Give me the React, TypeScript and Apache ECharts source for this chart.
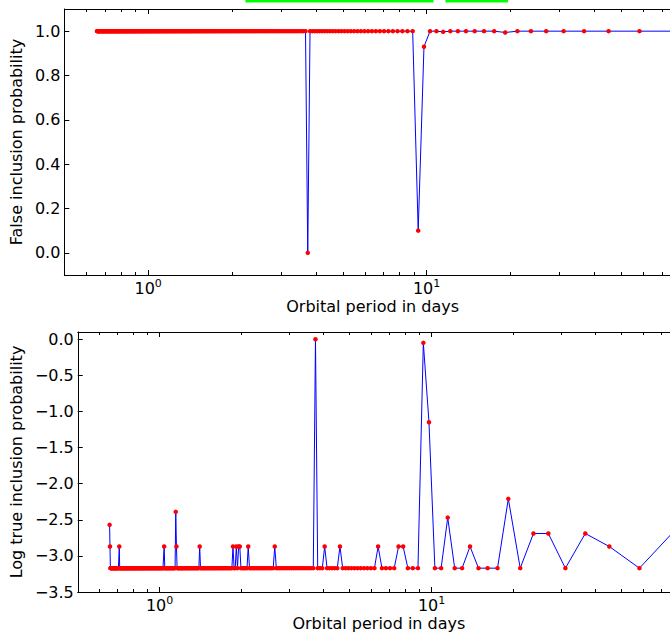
import React, { useEffect, useRef } from "react";
import * as echarts from "echarts";

// Periodogram frequency grid (cycles per day); periods are 1 / frequency
const FREQ_START = 0.0122;
const FREQ_STEP = 0.005;
const FREQ_COUNT = 304;

const X_MIN = 0.5;
const X_MAJOR_TICKS = [1, 10];
const X_MINOR_TICKS = [0.6, 0.7, 0.8, 0.9, 2, 3, 4, 5, 6, 7, 8, 9, 20, 30, 40, 50, 60, 70, 80];

// Top panel: false inclusion probability
const FALSE_BASE = 1.0;
const FALSE_DIP_PERIODS = [3.743, 9.33, 9.785, 11.47, 19.16];
const FALSE_DIP_VALUES = [0.0, 0.1, 0.93, 0.997, 0.994];
const FALSE_TICKS = [0, 0.2, 0.4, 0.6, 0.8, 1.0];

// Bottom panel: log true inclusion probability
const LOG_TRUE_BASE = -3.17;
const LOG_TRUE_SPIKE_PERIODS = [
  0.655, 0.657, 0.711, 1.037, 1.147, 1.153, 1.402, 1.868, 1.917, 1.949, 1.975,
  2.114, 2.642, 3.743, 4.03, 4.6, 6.36, 7.55, 7.87, 9.33, 9.785, 11.47, 13.85,
  19.16, 23.7, 26.9, 36.76, 45.05, 81.97,
];
const LOG_TRUE_SPIKE_VALUES = [
  -2.57, -2.87, -2.87, -2.87, -2.39, -2.87, -2.87, -2.87, -2.87, -2.87, -2.87,
  -2.87, -2.87, 0.0, -2.87, -2.87, -2.87, -2.87, -2.87, -0.05, -1.15, -2.47, -2.87,
  -2.21, -2.69, -2.69, -2.69, -2.87, -2.57,
];
const LOG_TRUE_TICKS = [-3.5, -3.0, -2.5, -2.0, -1.5, -1.0, -0.5, 0.0];

const FONT = "DejaVu Sans";

function buildPeriods(): number[] {
  const out: number[] = [];
  for (let j = FREQ_COUNT - 1; j >= 0; j--) out.push(1 / (FREQ_START + FREQ_STEP * j));
  return out;
}

function buildValues(base: number, periods: number[], vals: number[]): number[] {
  const arr: number[] = new Array(FREQ_COUNT).fill(base);
  periods.forEach((p, i) => {
    const j = Math.round((1 / p - FREQ_START) / FREQ_STEP);
    const idx = FREQ_COUNT - 1 - j;
    if (idx >= 0 && idx < FREQ_COUNT) arr[idx] = vals[i];
  });
  return arr;
}

export default function App() {
  const ref = useRef<HTMLDivElement>(null);

  useEffect(() => {
    if (!ref.current) return;
    const chart = echarts.init(ref.current, undefined, { renderer: "svg" });

    const periods = buildPeriods();
    const falseVals = buildValues(FALSE_BASE, FALSE_DIP_PERIODS, FALSE_DIP_VALUES);
    const logVals = buildValues(LOG_TRUE_BASE, LOG_TRUE_SPIKE_PERIODS, LOG_TRUE_SPIKE_VALUES);
    const xMax = Math.max(...periods);

    const lineStyle = { color: "#000", width: 1 };

    const makeXAxes = (gridIndex: number) => {
      const base = {
        type: "log" as const,
        logBase: 10,
        min: X_MIN,
        max: xMax,
        gridIndex,
        offset: 0,
        splitLine: { show: false },
        minorSplitLine: { show: false },
      };
      return [
        {
          ...base,
          position: "bottom",
          axisLine: { show: true, onZero: false, lineStyle },
          axisTick: { show: true, inside: true, length: 5, customValues: X_MAJOR_TICKS, lineStyle },
          axisLabel: {
            show: true,
            customValues: X_MAJOR_TICKS,
            margin: 3,
            formatter: (v: number) => `{b|10}{s|${Math.round(Math.log10(v))}}`,
            rich: {
              b: { fontFamily: FONT, fontSize: 16, color: "#000", lineHeight: 18, verticalAlign: "bottom" },
              s: { fontFamily: FONT, fontSize: 11, color: "#000", lineHeight: 18, verticalAlign: "top" },
            },
          },
          name: "Orbital period in days",
          nameLocation: "middle",
          nameGap: 23,
          nameTextStyle: { fontFamily: FONT, fontSize: 16, color: "#000", verticalAlign: "top" },
        },
        {
          ...base,
          position: "bottom",
          axisLine: { show: false, onZero: false },
          axisTick: { show: true, inside: true, length: 3, customValues: X_MINOR_TICKS, lineStyle },
          axisLabel: { show: false },
        },
        {
          ...base,
          position: "top",
          axisLine: { show: true, onZero: false, lineStyle },
          axisTick: { show: true, inside: true, length: 5, customValues: X_MAJOR_TICKS, lineStyle },
          axisLabel: { show: false },
        },
        {
          ...base,
          position: "top",
          axisLine: { show: false, onZero: false },
          axisTick: { show: true, inside: true, length: 3, customValues: X_MINOR_TICKS, lineStyle },
          axisLabel: { show: false },
        },
      ];
    };

    const makeYAxes = (gridIndex: number, min: number, max: number, ticks: number[], name: string, nameGap: number) => [
      {
        type: "value" as const,
        gridIndex,
        min,
        max,
        position: "left",
        offset: 0,
        splitLine: { show: false },
        axisLine: { show: true, onZero: false, lineStyle },
        axisTick: { show: true, inside: true, length: 5, customValues: ticks, lineStyle },
        axisLabel: {
          show: true,
          customValues: ticks,
          margin: 4,
          fontFamily: FONT,
          fontSize: 16,
          color: "#000",
          formatter: (v: number) => v.toFixed(1).replace("-", "\u2212"),
        },
        name,
        nameLocation: "middle",
        nameGap,
        nameTextStyle: { fontFamily: FONT, fontSize: 16, color: "#000", verticalAlign: "middle" },
      },
      {
        type: "value" as const,
        gridIndex,
        min,
        max,
        position: "right",
        offset: 0,
        splitLine: { show: false },
        axisLine: { show: true, onZero: false, lineStyle },
        axisTick: { show: true, inside: true, length: 5, customValues: ticks, lineStyle },
        axisLabel: { show: false },
      },
    ];

    const seriesBase = {
      type: "line" as const,
      symbol: "circle",
      symbolSize: 4.5,
      showAllSymbol: true,
      silent: true,
      lineStyle: { color: "#0000ff", width: 1 },
      itemStyle: { color: "#ff0000" },
    };

    chart.setOption({
      animation: false,
      backgroundColor: "#ffffff",
      grid: [
        { left: 63, top: 9, width: 618, height: 266 },
        { left: 76, top: 332, width: 604, height: 260 },
      ],
      xAxis: [...makeXAxes(0), ...makeXAxes(1)],
      yAxis: [
        ...makeYAxes(0, -0.1, 1.1, FALSE_TICKS, "False inclusion probability", 42),
        ...makeYAxes(1, -3.5, 0.1, LOG_TRUE_TICKS, "Log true inclusion probability", 55),
      ],
      series: [
        {
          ...seriesBase,
          xAxisIndex: 0,
          yAxisIndex: 0,
          data: periods.map((p, i) => [p, falseVals[i]]),
        },
        {
          ...seriesBase,
          xAxisIndex: 4,
          yAxisIndex: 2,
          data: periods.map((p, i) => [p, logVals[i]]),
        },
      ],
      graphic: [
        {
          type: "rect",
          shape: { x: 246.7, y: -10, width: 185.5, height: 11.3 },
          style: { fill: "none", stroke: "#00ff00", lineWidth: 2.5 },
          silent: true,
        },
        {
          type: "rect",
          shape: { x: 446.7, y: -10, width: 60, height: 11.3 },
          style: { fill: "none", stroke: "#00ff00", lineWidth: 2.5 },
          silent: true,
        },
      ],
    });

    return () => chart.dispose();
  }, []);

  return (
    <div
      style={{
        position: "absolute",
        left: 0,
        top: 0,
        width: 670,
        height: 634,
        overflow: "hidden",
        background: "#fff",
      }}
    >
      <div ref={ref} style={{ width: 720, height: 634 }} />
    </div>
  );
}
